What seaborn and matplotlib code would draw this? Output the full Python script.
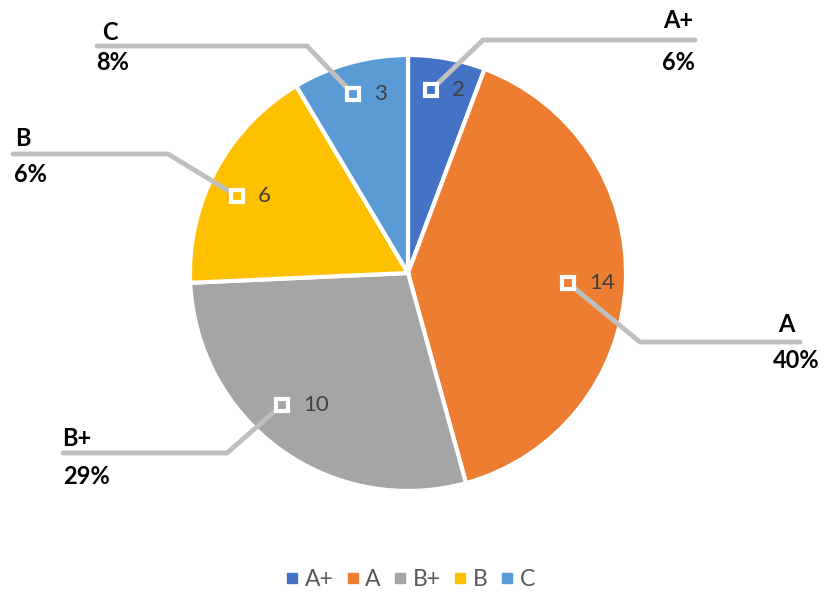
import matplotlib
matplotlib.use("Agg")
import matplotlib.pyplot as plt
from matplotlib.lines import Line2D
import seaborn as sns

# ---- data ----
categories = ["A+", "A", "B+", "B", "C"]
values = [2, 14, 10, 6, 3]
percent_labels = ["6%", "40%", "29%", "6%", "8%"]
colors = ["#4472C4", "#ED7D31", "#A5A5A5", "#FFC000", "#5B9BD5"]

sns.set_theme(style="white")
plt.rcParams["font.family"] = ["Lato", "DejaVu Sans"]

W, H = 825, 597
fig = plt.figure(figsize=(W / 100, H / 100), dpi=100)
ax = fig.add_axes([0, 0, 1, 1])

def py(y):
    return H - y

center = (408, py(273))
radius = 218
ax.pie(values, colors=colors, startangle=90, counterclock=False,
       center=center, radius=radius,
       wedgeprops=dict(edgecolor="white", linewidth=3))
ax.set_xlim(0, W)
ax.set_ylim(0, H)
ax.set_aspect("auto")
ax.axis("off")

# ---- label layout (pixel positions) ----
marker_pos = [(431, 90), (568, 283), (282, 405), (237, 196), (353, 94)]
kink_pos = [(483, 40), (640, 342), (227, 453), (168, 154), (307, 46)]
end_x = [695, 800, 63, 13, 97]
name_pos = [(678, 20), (786, 325), (77, 438), (23, 138), (110, 33)]
pct_pos = [(678, 62), (796, 360), (86, 476), (30, 174), (113, 63)]

line_col = "#BFBFBF"
for i, cat in enumerate(categories):
    mx, my = marker_pos[i]
    kx, ky = kink_pos[i]
    ax.plot([mx, kx, end_x[i]], [py(my), py(ky), py(ky)], color=line_col,
            lw=3.5, solid_capstyle="round", solid_joinstyle="round", zorder=3)
    ax.plot([mx], [py(my)], marker="s", markersize=8.5, markerfacecolor=colors[i],
            markeredgecolor="white", markeredgewidth=3, zorder=4)
    ax.text(mx + 21, py(my), str(values[i]), fontsize=16, color="#404040",
            ha="left", va="center", zorder=5)
    nx, ny = name_pos[i]
    ax.text(nx, py(ny), cat, fontsize=17, fontweight="bold", color="black",
            ha="center", va="center", zorder=5)
    qx, qy = pct_pos[i]
    ax.text(qx, py(qy), percent_labels[i], fontsize=17, fontweight="bold",
            color="black", ha="center", va="center", zorder=5)

handles = [Line2D([0], [0], marker="s", linestyle="none", markersize=7,
                  markerfacecolor=c, markeredgecolor=c) for c in colors]
leg = ax.legend(handles, categories, loc="center", bbox_to_anchor=(410 / W, 1 - 580 / H),
                ncol=5, frameon=False, fontsize=16.5, handletextpad=0.25,
                columnspacing=0.55, handlelength=0.6)
for t in leg.get_texts():
    t.set_color("#595959")

fig.savefig("out.png", dpi=100, facecolor="white")
